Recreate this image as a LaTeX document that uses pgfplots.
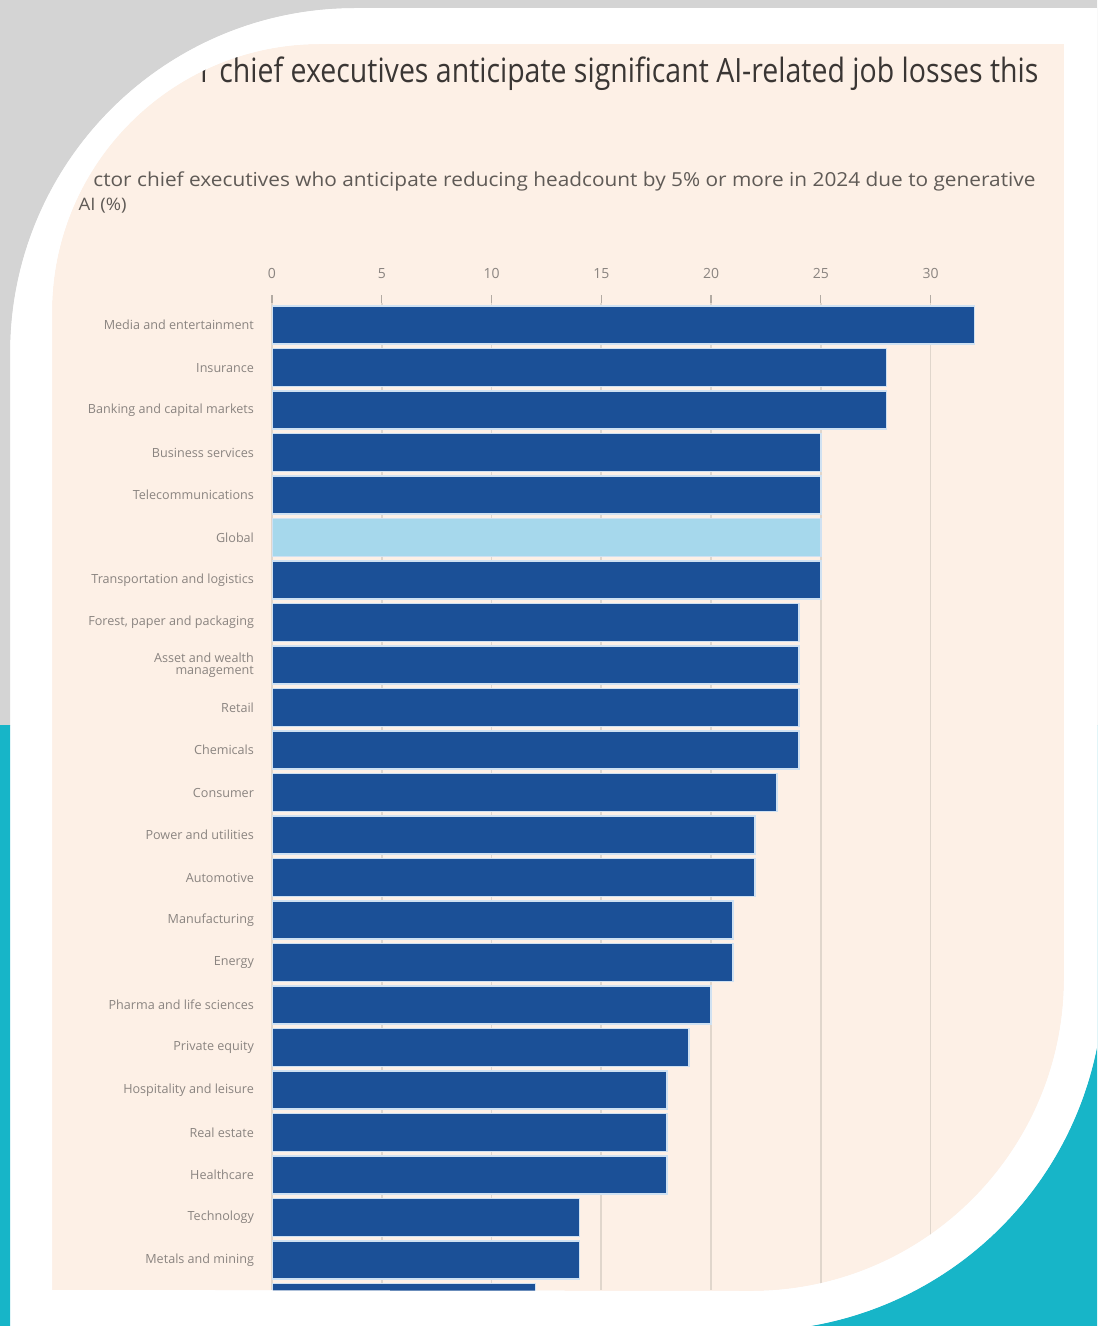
\documentclass[border=0pt]{standalone}
\usepackage{pgfplots}
\pgfplotsset{compat=1.18}
\usepackage{fontspec}
\setmainfont{Open Sans}
\newfontfamily\titlefont[FakeStretch=0.85]{Open Sans}
\newfontfamily\subfont[FakeStretch=1.08]{Open Sans}
\definecolor{bggray}{HTML}{D4D4D4}
\definecolor{tealbg}{HTML}{17B5C8}
\definecolor{paper}{HTML}{FDF0E6}
\definecolor{barblue}{HTML}{1B5097}
\definecolor{globalblue}{HTML}{A6D8EC}
\definecolor{gapblue}{HTML}{CFE1F2}
\definecolor{gridc}{HTML}{E0D6CC}
\definecolor{labelc}{HTML}{8A8480}
\definecolor{titlec}{HTML}{3A3634}
\definecolor{subc}{HTML}{5F5A56}
\begin{document}
\begin{tikzpicture}
% background (px units, origin top-left, y down)
\begin{scope}[x=0.5pt,y=-0.5pt]
\fill[bggray] (0,0) rectangle (1097,1326);
\fill[tealbg] (0,725) rectangle (1097,1326);
\fill[white] (10,1326) -- (10,353) arc[start angle=180,end angle=270,radius=345] -- (1097,8) -- (1097,1048) arc[start angle=11.4,end angle=80.3,radius=353] -- cycle;
\fill[paper] (52,1290) -- (52,312) arc[start angle=180,end angle=270,radius=268] -- (1064,44) -- (1064,978) arc[start angle=0,end angle=90,radius=313] -- cycle;
\end{scope}
\begin{axis}[
  at={(136pt,-151.5pt)}, anchor=north west,
  scale only axis, width=362.2pt, height=493.6pt,
  xmin=0, xmax=33, ymin=-0.52, ymax=22.71, y dir=reverse,
  xbar, bar width=19pt, bar shift=0pt,
  axis line style={draw=none},
  xtick={0,5,10,15,20,25,30},
  xtick pos=right, xticklabel pos=right,
  tick align=outside, major tick length=4pt,
  xtick style={draw=gridc!80!black, line width=0.6pt},
  ytick={0,...,22},
  ytick style={draw=none},
  yticklabels={Media and entertainment, Insurance, Banking and capital markets, Business services, Telecommunications, Global, Transportation and logistics, {Forest, paper and packaging}, {Asset and wealth\\management}, Retail, Chemicals, Consumer, Power and utilities, Automotive, Manufacturing, Energy, Pharma and life sciences, Private equity, Hospitality and leisure, Real estate, Healthcare, Technology, Metals and mining},
  y tick label style={font=\fontsize{6.3}{6.3}\selectfont, text=labelc, align=right, anchor=east, xshift=-1.5pt},
  x tick label style={font=\fontsize{7}{8}\selectfont, text=labelc, yshift=4.5pt},
  /pgf/number format/assume math mode=true,
  xmajorgrids, major grid style={draw=gridc, line width=0.8pt},
]
\addplot[fill=barblue, draw=gapblue, line width=0.8pt] coordinates {
(32,0) (28,1) (28,2) (25,3) (25,4) (25,6) (24,7) (24,8) (24,9) (24,10) (23,11) (22,12) (22,13) (21,14) (21,15) (20,16) (19,17) (18,18) (18,19) (18,20) (14,21) (14,22) (12,23)};
\addplot[fill=globalblue, draw=gapblue, line width=0.8pt] coordinates {(25,5)};
\end{axis}
% titles
\node[anchor=base west, inner sep=0pt, text=titlec] at (100pt,-41.5pt) {\resizebox{419pt}{!}{\titlefont r chief executives anticipate significant AI-related job losses this}};
\node[anchor=base west, inner sep=0pt, text=subc] at (46.5pt,-93.5pt) {\resizebox{471pt}{!}{\subfont ctor chief executives who anticipate reducing headcount by 5\% or more in 2024 due to generative}};
\node[anchor=base east, inner sep=0pt, text=subc] at (63.5pt,-105.5pt) {\subfont\fontsize{8.6}{10}\selectfont AI (\%)};
% frame overlay
\begin{scope}[x=0.5pt,y=-0.5pt]
\fill[white, even odd rule] (10,1326) -- (10,353) arc[start angle=180,end angle=270,radius=345] -- (1097,8) -- (1097,1048) arc[start angle=11.4,end angle=80.3,radius=353] -- cycle
 (52,1290) -- (52,312) arc[start angle=180,end angle=270,radius=268] -- (1064,44) -- (1064,978) arc[start angle=0,end angle=90,radius=313] -- cycle;
\begin{scope}
\clip (0,0) rectangle (1097,725);
\fill[bggray, even odd rule] (0,0) rectangle (1097,1326) (10,1326) -- (10,353) arc[start angle=180,end angle=270,radius=345] -- (1097,8) -- (1097,1048) arc[start angle=11.4,end angle=80.3,radius=353] -- cycle;
\end{scope}
\begin{scope}
\clip (0,725) rectangle (1097,1326);
\fill[tealbg, even odd rule] (0,0) rectangle (1097,1326) (10,1326) -- (10,353) arc[start angle=180,end angle=270,radius=345] -- (1097,8) -- (1097,1048) arc[start angle=11.4,end angle=80.3,radius=353] -- cycle;
\end{scope}
\pgfresetboundingbox
\useasboundingbox (0,0) rectangle (1097,1326);
\end{scope}
\end{tikzpicture}
\end{document}
